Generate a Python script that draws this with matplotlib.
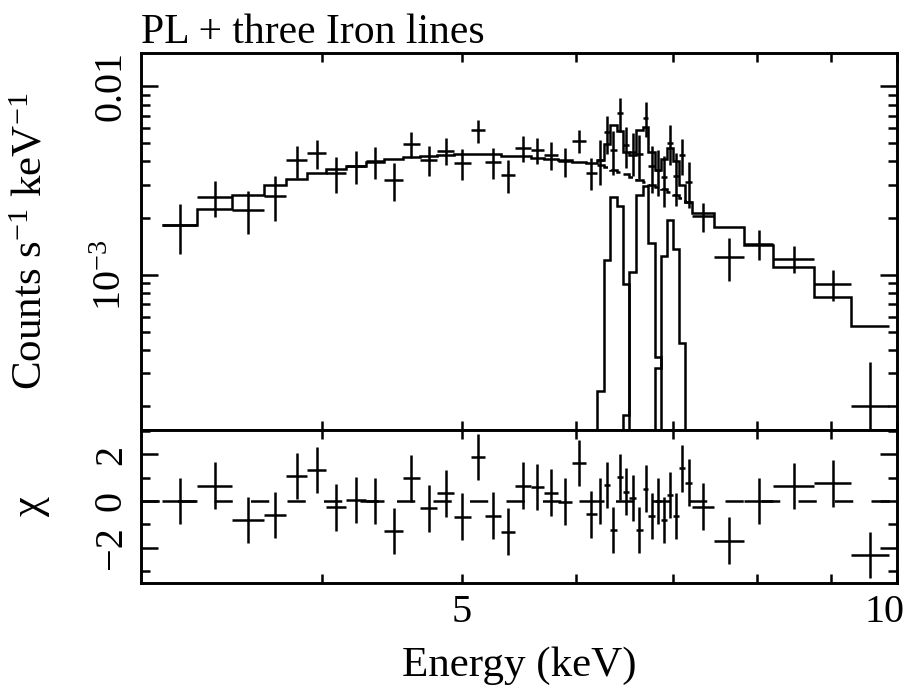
import numpy as np
import matplotlib
matplotlib.use("Agg")
import matplotlib.pyplot as plt
import matplotlib.transforms as mtransforms
from matplotlib.ticker import FixedLocator, FixedFormatter, NullFormatter, NullLocator

plt.rcParams["font.family"] = ["Liberation Serif", "DejaVu Serif"]
plt.rcParams["mathtext.fontset"] = "custom"
plt.rcParams["mathtext.rm"] = "Liberation Serif"
plt.rcParams["mathtext.it"] = "Liberation Serif:italic"

# energy bin edges (keV), 44 grouped channels
bin_edges = np.array([
    3.10, 3.28, 3.47, 3.65, 3.78, 3.91, 4.03, 4.16, 4.29, 4.42, 4.55, 4.68,
    4.81, 4.94, 5.07, 5.19, 5.32, 5.44, 5.58, 5.70, 5.83, 5.96, 6.09, 6.20,
    6.27, 6.33, 6.40, 6.46, 6.53, 6.60, 6.67, 6.73, 6.80, 6.87, 6.93, 7.00,
    7.07, 7.14, 7.21, 7.47, 7.84, 8.21, 8.76, 9.30, 9.87,
])

# data (1e-3 counts/s/keV)
counts = np.array([
    1.83, 2.60, 2.21, 2.63, 4.05, 4.43, 3.47, 3.79, 4.00, 3.20, 4.94, 4.08,
    4.57, 3.92, 5.84, 3.95, 3.40, 4.71, 4.61, 4.34, 4.00, 5.15, 3.49,
    4.09, 5.70, 4.60, 7.20, 4.90, 4.51, 4.37, 6.84, 3.78, 3.61, 3.29, 5.03,
    3.36, 4.33, 3.12,
    2.05, 1.25, 1.46, 1.22, 0.89, 0.20,
]) * 1e-3
counts_err = np.array([
    0.54, 0.56, 0.56, 0.70, 0.77, 0.78, 0.74, 0.74, 0.76, 0.72, 0.78, 0.73,
    0.76, 0.74, 0.83, 0.74, 0.69, 0.74, 0.75, 0.75, 0.70, 0.73, 0.66,
    1.10, 1.30, 1.20, 1.50, 1.20, 1.15, 1.15, 1.45, 1.05, 1.00, 1.00, 1.20,
    1.05, 0.95, 0.85,
    0.37, 0.32, 0.26, 0.196, 0.167, 0.145,
]) * 1e-3

# folded model, total
model_total = np.array([
    1.83, 2.24, 2.66, 3.01, 3.22, 3.47, 3.63, 3.78, 3.97, 4.13, 4.20, 4.30,
    4.35, 4.40, 4.38, 4.38, 4.30, 4.25, 4.19, 4.11, 4.05, 3.98, 3.91,
    4.09, 4.94, 6.21, 5.82, 4.48, 4.35, 5.86, 6.08, 4.48, 3.61, 4.10, 4.72,
    4.03, 3.00, 2.45,
    2.13, 1.79, 1.44, 1.10, 0.767, 0.536,
]) * 1e-3

# components over the iron-line channels (bins 23..37)
pl_dense = np.array([3.85, 3.74, 3.62, 3.51, 3.41, 3.31, 3.20, 3.11, 3.01,
                     2.92, 2.84, 2.76, 2.66, 2.56, 2.45]) * 1e-3
line_a = np.array([0.242, 1.20, 2.59, 2.31, 0.89, 0, 0, 0, 0,
                   0, 0, 0, 0, 0, 0]) * 1e-3
line_b = np.array([0, 0, 0, 0, 0.18, 1.04, 2.66, 2.97, 1.47,
                   0.368, 0, 0, 0, 0, 0]) * 1e-3
line_c = np.array([0, 0, 0, 0, 0, 0, 0, 0, 0,
                   0.319, 1.26, 1.96, 1.37, 0.437, 0]) * 1e-3

# residuals (chi)
chi = np.array([
    0.00, 0.66, -0.81, -0.60, 1.07, 1.33, -0.27, 0.04, 0.01, -1.29, 0.97,
    -0.31, 0.33, -0.67, 1.90, -0.63, -1.31, 0.66, 0.61, 0.36, -0.03, 1.64,
    -0.57,
    0.00, 0.69, -1.24, 1.04, 0.40, 0.14, -1.24, 0.54, -0.64, 0.00, -0.81,
    0.26, -0.64, 1.40, 0.79,
    -0.24, -1.70, 0.00, 0.64, 0.76, -2.31,
])

FS = 29
LW = 1.8

centers = 0.5 * (bin_edges[:-1] + bin_edges[1:])
half = 0.5 * (bin_edges[1:] - bin_edges[:-1])

fig = plt.figure(figsize=(9.2, 6.89), dpi=100)
ax1 = fig.add_axes([0.1533, 0.3759, 0.8217, 0.5467])
ax2 = fig.add_axes([0.1533, 0.1543, 0.8217, 0.2216], sharex=ax1)

# top panel
ax1.errorbar(centers, counts, xerr=half, yerr=counts_err, fmt="none",
             ecolor="k", elinewidth=LW, capsize=0)
ax1.stairs(model_total, bin_edges, baseline=None, color="k", lw=LW)
dense_edges = bin_edges[23:39]
ax1.stairs(pl_dense, dense_edges, baseline=None, color="k", lw=LW,
           linestyle=(0, (5, 2)))
pad_edges = bin_edges[22:40]
for comp in (line_a, line_b, line_c):
    vals = np.concatenate([[1e-9], np.where(comp > 0, comp, 1e-9), [1e-9]])
    ax1.stairs(vals, pad_edges, baseline=None, color="k", lw=LW)

ax1.set_xscale("log")
ax1.set_yscale("log")
ax1.set_xlim(3, 10)
ax1.set_ylim(1.5e-4, 1.5e-2)

# bottom panel
ax2.errorbar(centers, chi, xerr=half, yerr=1.0, fmt="none",
             ecolor="k", elinewidth=LW, capsize=0)
zero = ax2.axhline(0, color="k", lw=LW)
zero.set_dashes((7.3, 7.3))
ax2.set_ylim(-3.5, 3.05)

xt = [4, 5, 6, 7, 8, 9, 10]
xl = ["", "5", "", "", "", "", "10"]
for ax in (ax1, ax2):
    ax.xaxis.set_major_locator(FixedLocator(xt))
    ax.xaxis.set_minor_locator(NullLocator())
    ax.tick_params(axis="x", which="major", direction="in", top=True,
                   bottom=True, length=6.5, width=LW)
    ax.tick_params(axis="y", which="both", direction="in", left=True,
                   right=True, width=LW, labelrotation=90)
    ax.tick_params(axis="y", which="major", length=12.5)
    ax.tick_params(axis="y", which="minor", length=6.5)
    ax.tick_params(labelsize=FS, pad=8)
    for s in ax.spines.values():
        s.set_linewidth(LW + 0.3)

ax1.xaxis.set_major_formatter(NullFormatter())
ax2.xaxis.set_major_formatter(FixedFormatter(xl))
plt.setp(ax1.get_xticklabels(), visible=False)

ax1.yaxis.set_major_locator(FixedLocator([1e-3, 1e-2]))
ax1.yaxis.set_major_formatter(FixedFormatter([r"$\mathregular{10^{-3}}$", "0.01"]))
minor_y = [m * 1e-4 for m in range(2, 10)] + [m * 1e-3 for m in range(2, 10)]
ax1.yaxis.set_minor_locator(FixedLocator(minor_y))
ax1.yaxis.set_minor_formatter(NullFormatter())

ax2.yaxis.set_major_locator(FixedLocator([-2, 0, 2]))
ax2.yaxis.set_major_formatter(FixedFormatter(["\u22122", "0", "2"]))
ax2.yaxis.set_minor_locator(FixedLocator([-3, -1, 1, 3]))
ax2.yaxis.set_minor_formatter(NullFormatter())

for ax in (ax1, ax2):
    for lab in ax.get_yticklabels():
        lab.set_va("center")

# shift the "10" label inside, like PGPLOT does
shift = mtransforms.ScaledTranslation(-12 / 100, 0, fig.dpi_scale_trans)
lab10 = ax2.get_xticklabels()[-1]
lab10.set_transform(lab10.get_transform() + shift)

ax1.set_ylabel(r"Counts s$^{-1}$ keV$^{-1}$", fontsize=31)
ax1.yaxis.set_label_coords(-0.12, 0.5)
ax2.set_ylabel("\u03c7", fontsize=32)
ax2.yaxis.set_label_coords(-0.12, 0.5)
ax2.set_xlabel("Energy (keV)", fontsize=31)
ax2.xaxis.set_label_coords(0.5, -0.42)

fig.text(141 / 920, 1 - 43 / 689, "PL + three Iron lines", ha="left",
         va="baseline", fontsize=30)

fig.savefig("out.png", dpi=100)
